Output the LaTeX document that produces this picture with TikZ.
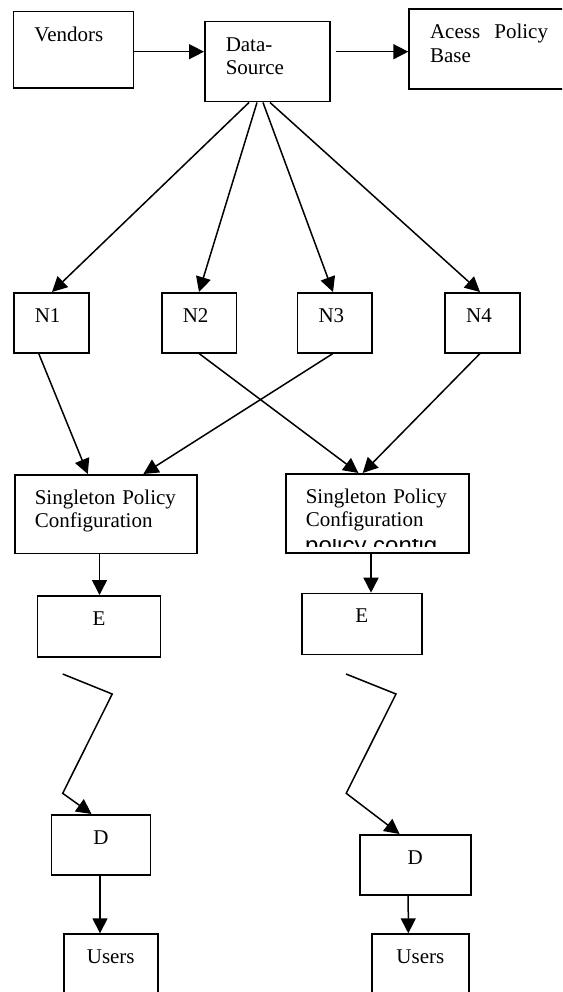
\documentclass[tikz,border=0pt]{standalone}
\usepackage{fontspec}
\setmainfont{Liberation Serif}
\setsansfont{Liberation Sans}
\usetikzlibrary{arrows.meta, calc}

\begin{document}
\begin{tikzpicture}[
    x=1pt, y=-1pt,
    font=\fontsize{21}{23.5}\selectfont,
    box/.style={draw, line width=1.5pt, anchor=north west, inner ysep=0pt, text height=29.5pt},
    lbox/.style={box, inner xsep=21pt, align=left},
    cbox/.style={box, inner xsep=0pt, align=center},
    arr/.style={-{Triangle[length=15pt, width=15pt]}, line width=1.5pt},
]
\useasboundingbox (0,0) rectangle (562,992);
\clip (0,0) rectangle (562,992);
% top row
\node[lbox, text width=78pt, text depth=46.8pt] (vend) at (12.7,11) {Vendors};
\node[lbox, text width=83pt, text depth=50.5pt] (src) at (204,21) {Data-\\Source};
\node[lbox, text width=118pt, text depth=50.5pt] (apb) at (408.3,8.3) {Acess\hfill Policy\\Base};
% nodes
\node[lbox, text width=33pt, text depth=30.5pt] (n1) at (13,292) {N1};
\node[lbox, text width=32.5pt, text depth=30.5pt] (n2) at (161,292) {N2};
\node[lbox, text width=32.5pt, text depth=30.5pt] (n3) at (296.8,292) {N3};
\node[lbox, text width=33pt, text depth=30.5pt] (n4) at (444.4,292) {N4};
% policy configuration
\node[lbox, inner xsep=20pt, text width=142pt, text depth=49pt] (spc1) at (14,474) {\mbox{Singleton Policy}\\Configuration};
\node[lbox, inner xsep=20pt, text width=143pt, text depth=49.5pt] (spc2) at (285,473) {\mbox{Singleton Policy}\\Configuration};
\begin{scope}
  \clip (285,539) rectangle (468,546.5);
  \node[font=\sffamily\fontsize{24}{28}\selectfont, anchor=base west, inner sep=0pt] (pcfg) at (305,553.5) {policy config};
\end{scope}
% E, D, users
\node[cbox, text width=123.3pt, text depth=31.5pt] (e1) at (36.6,595) {E};
\node[cbox, text width=120pt, text depth=31.5pt] (e2) at (301,592.7) {E};
\node[cbox, text width=99.3pt, text depth=30.8pt] (d1) at (50.5,814) {D};
\node[cbox, text width=111pt, text depth=30.5pt] (d2) at (359,834) {D};
\node[cbox, text width=94pt, text depth=60pt] (u1) at (63,933.3) {Users};
\node[cbox, text width=97.3pt, text depth=60pt] (u2) at (371,933.3) {Users};
\coordinate (zl) at (62.7,674);
\coordinate (zr) at (346,674);

\draw[arr] ($(vend.north east)+(0,40.7)$) -- ($(src.north west)+(0,30.7)$);
\draw[arr] ($(src.north east)+(5,30.7)$) -- ($(apb.north west)+(0,43.4)$);
\draw[arr] ($(src.south west)+(45,0)$) -- ($(n1.north west)+(39,0)$);
\draw[arr] ($(src.south west)+(53,0)$) -- ($(n2.north west)+(38,0)$);
\draw[arr] ($(src.south west)+(59,0)$) -- ($(n3.north west)+(36.2,0)$);
\draw[arr] ($(src.south west)+(66,0)$) -- ($(n4.north west)+(35.6,0)$);
\draw[arr] ($(n1.south west)+(25.7,0)$) -- ($(spc1.north west)+(73.8,0)$);
\draw[arr] ($(n3.south west)+(36.2,0)$) -- ($(spc1.north west)+(129.4,0)$);
\draw[arr] ($(n2.south west)+(38,0)$) -- ($(spc2.north west)+(73.4,0)$);
\draw[arr] ($(n4.south west)+(35.6,0)$) -- ($(spc2.north west)+(77.7,0)$);
\draw[arr] ($(spc1.south west)+(85.5,0)$) -- ($(e1.north west)+(62.9,0)$);
\draw[arr] ($(spc2.south west)+(86,0)$) -- ($(e2.north west)+(70,0)$);
\draw[arr] (zl) -- ++(49.5,20) -- ++(-49.5,99.3) -- ($(d1.north west)+(41,0)$);
\draw[arr] (zr) -- ++(50,20) -- ++(-49.8,99.3) -- ($(d2.north west)+(40.6,0)$);
\draw[arr] ($(d1.south west)+(49.5,0)$) -- ($(u1.north west)+(37,0)$);
\draw[arr] ($(d2.south west)+(49.2,0)$) -- ($(u2.north west)+(37.3,0)$);
\end{tikzpicture}
\end{document}
